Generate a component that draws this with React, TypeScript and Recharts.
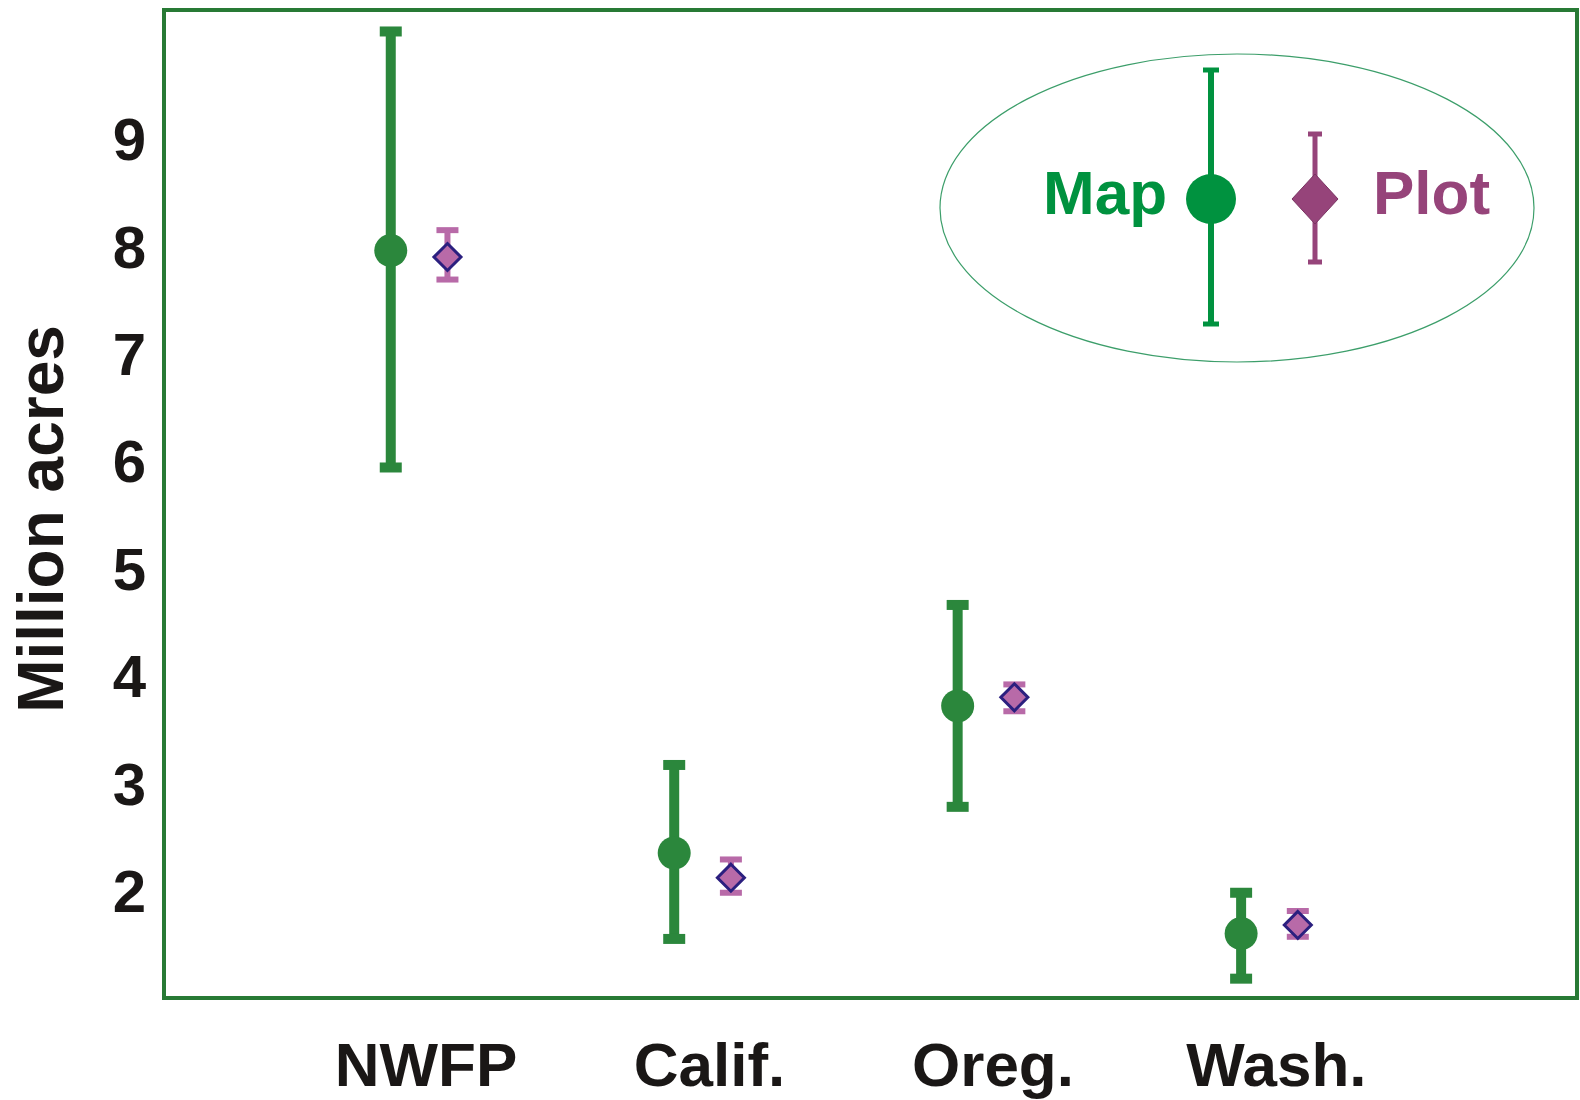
import { ScatterChart, Scatter, XAxis, YAxis, ErrorBar, ReferenceArea, Legend } from "recharts"

const regions = ["NWFP", "Calif.", "Oreg.", "Wash."]
const mapEstimate = [7.96, 2.35, 3.72, 1.6]
const mapLower = [5.94, 1.55, 2.78, 1.18]
const mapUpper = [10.0, 3.17, 4.66, 1.98]
const plotEstimate = [7.9, 2.12, 3.8, 1.68]
const plotLower = [7.69, 1.98, 3.67, 1.57]
const plotUpper = [8.15, 2.29, 3.92, 1.81]
const yTicks = [2, 3, 4, 5, 6, 7, 8, 9]
const xTicks = [1, 2, 3, 4]

const X_DOMAIN: [number, number] = [0.1, 5.085]
const Y_DOMAIN: [number, number] = [1, 10.2]
const SHIFT = 0.1

const MAP_GREEN = "#2b873c"
const BORDER_GREEN = "#287a35"
const PLOT_PINK = "#b86aa8"
const LEGEND_GREEN = "#00923f"
const LEGEND_PURPLE = "#96447a"
const FONT = "'Liberation Sans', Arial, Helvetica, sans-serif"

const mapData = regions.map((name, i) => ({
  name,
  x: i + 1 - SHIFT,
  y: mapEstimate[i],
  err: [mapEstimate[i] - mapLower[i], mapUpper[i] - mapEstimate[i]],
}))

const plotData = regions.map((name, i) => ({
  name,
  x: i + 1 + SHIFT,
  y: plotEstimate[i],
  err: [plotEstimate[i] - plotLower[i], plotUpper[i] - plotEstimate[i]],
}))

const Dot = (props: any) => <circle cx={props.cx} cy={props.cy} r={16.5} fill={MAP_GREEN} />

const Diamond = (props: any) => {
  const { cx, cy } = props
  return (
    <polygon
      points={`${cx},${cy - 13.5} ${cx + 13.5},${cy} ${cx},${cy + 13.5} ${cx - 13.5},${cy}`}
      fill={PLOT_PINK}
      stroke="#2b1f7f"
      strokeWidth={3}
    />
  )
}

function LegendBox() {
  return (
    <svg width={600} height={314} style={{ display: "block" }}>
      <ellipse cx={299} cy={156} rx={297} ry={154} fill="none" stroke="#3c9e6a" strokeWidth={1.2} />
      <line x1={273} y1={16} x2={273} y2={274} stroke={LEGEND_GREEN} strokeWidth={6} />
      <line x1={265} y1={18} x2={281} y2={18} stroke={LEGEND_GREEN} strokeWidth={5} />
      <line x1={265} y1={272} x2={281} y2={272} stroke={LEGEND_GREEN} strokeWidth={5} />
      <circle cx={273} cy={147} r={25} fill={LEGEND_GREEN} />
      <text x={229} y={162} textAnchor="end" fontFamily={FONT} fontWeight={700} fontSize={62} fill={LEGEND_GREEN}>
        Map
      </text>
      <line x1={377} y1={80} x2={377} y2={212} stroke={LEGEND_PURPLE} strokeWidth={5} />
      <line x1={370} y1={82} x2={384} y2={82} stroke={LEGEND_PURPLE} strokeWidth={5} />
      <line x1={370} y1={210} x2={384} y2={210} stroke={LEGEND_PURPLE} strokeWidth={5} />
      <polygon points="377,122 400,147 377,172 354,147" fill={LEGEND_PURPLE} stroke="#7a3362" strokeWidth={1} />
      <text x={435} y={162} fontFamily={FONT} fontWeight={700} fontSize={62} fill={LEGEND_PURPLE}>
        Plot
      </text>
    </svg>
  )
}

const YLabel = (props: any) => {
  const { viewBox } = props
  const cx = viewBox.x + 41
  const cy = viewBox.y + viewBox.height / 2 + 15
  return (
    <text
      x={cx}
      y={cy}
      transform={`rotate(-90, ${cx}, ${cy})`}
      textAnchor="middle"
      dominantBaseline="central"
      fontFamily={FONT}
      fontWeight={700}
      fontSize={64}
      fill="#1a1716"
    >
      Million acres
    </text>
  )
}

export default function App() {
  return (
    <div style={{ position: "absolute", left: 0, top: 0, width: 1580, height: 1100, background: "#fff" }}>
      <ScatterChart width={1580} height={1100} margin={{ top: 10, right: 3, bottom: 0, left: 0 }}>
        <ReferenceArea
          x1={X_DOMAIN[0]}
          x2={X_DOMAIN[1]}
          y1={Y_DOMAIN[0]}
          y2={Y_DOMAIN[1]}
          fill="none"
          stroke={BORDER_GREEN}
          strokeWidth={4}
          ifOverflow="visible"
        />
        <XAxis
          type="number"
          dataKey="x"
          domain={X_DOMAIN}
          ticks={xTicks}
          allowDataOverflow
          height={102}
          axisLine={false}
          tickLine={false}
          tickSize={0}
          tickMargin={44}
          tickFormatter={(v: number) => regions[v - 1] ?? ""}
          tick={{ fontFamily: FONT, fontWeight: 700, fontSize: 62, fill: "#1a1716", dx: 7 }}
        />
        <YAxis
          type="number"
          dataKey="y"
          domain={Y_DOMAIN}
          ticks={yTicks}
          allowDataOverflow
          width={164}
          axisLine={false}
          tickLine={false}
          tickSize={0}
          tickMargin={18}
          tick={{ fontFamily: FONT, fontWeight: 700, fontSize: 60, fill: "#1a1716" }}
          label={<YLabel />}
        />
        <Legend
          layout="vertical"
          align="center"
          verticalAlign="middle"
          content={() => <LegendBox />}
          wrapperStyle={{ position: "absolute", left: 938, top: 52, width: 600, height: 314 }}
        />
        <Scatter name="Map" data={mapData} shape={Dot} isAnimationActive={false}>
          <ErrorBar dataKey="err" direction="y" width={11} strokeWidth={10} stroke={MAP_GREEN} />
        </Scatter>
        <Scatter name="Plot" data={plotData} shape={Diamond} isAnimationActive={false}>
          <ErrorBar dataKey="err" direction="y" width={11} strokeWidth={6} stroke={PLOT_PINK} />
        </Scatter>
      </ScatterChart>
    </div>
  )
}
